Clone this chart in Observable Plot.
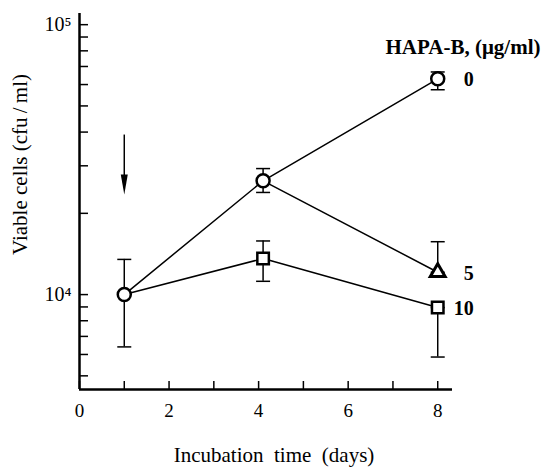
<!DOCTYPE html>
<html><head><meta charset="utf-8">
<script src="https://cdn.jsdelivr.net/npm/d3@7"></script>
<script src="https://cdn.jsdelivr.net/npm/@observablehq/plot@0.6"></script>
<style>
body{margin:0;background:#fff}
svg{display:block}
#chart svg, #chart svg text{font-family:"Liberation Serif","Times New Roman","DejaVu Serif",serif !important;}
</style>
</head><body><div id="chart"></div>
<script>
// ---- data ----
const days = [1, 4.1, 8];
const dose0Values = [10000, 26400, 63000];
const dose0Low    = [6400, 23900, 57400];
const dose0High   = [13500, 29300, 66800];
const dose5Days   = [4.1, 8];
const dose5Values = [26400, 12100];
const dose5Low    = [23900, 12100];
const dose5High   = [29300, 15700];
const dose10Values = [10000, 13600, 8950];
const dose10Low    = [6400, 11200, 5870];
const dose10High   = [13500, 15800, 8950];
const seriesLabels = ["0", "5", "10"];
const legendTitle = "HAPA-B, (\u03bcg/ml)";
const xTitle = "Incubation\u00a0 time\u00a0 (days)";
const yTitle = "Viable cells (cfu\u2009/\u2009ml)";
const xTicks = [0, 1, 2, 3, 4, 5, 6, 7, 8];
const xTickLabels = [0, 2, 4, 6, 8];
const yTicks = [5000, 6000, 7000, 8000, 9000, 10000, 20000, 30000, 40000, 50000, 60000, 70000, 80000, 90000, 100000];
const yTickLabels = {10000: "10\u2074", 100000: "10\u2075"};
const arrowDay = 1, arrowFrom = 39000, arrowTo = 23500;

// ---- tables built from the arrays ----
const lineRows = [
  ...days.map((d, i) => ({series: "0", day: d, value: dose0Values[i]})),
  ...dose5Days.map((d, i) => ({series: "5", day: d, value: dose5Values[i]})),
  ...days.map((d, i) => ({series: "10", day: d, value: dose10Values[i]}))
];
const circles = days.map((d, i) => ({day: d, value: dose0Values[i], low: dose0Low[i], high: dose0High[i]}));
const triangles = [{day: dose5Days[1], value: dose5Values[1], low: dose5Low[1], high: dose5High[1]}];
const squares = [1, 2].map(i => ({day: days[i], value: dose10Values[i], low: dose10Low[i], high: dose10High[i]}));
const points = [...circles, ...triangles, ...squares];
const labelRows = [
  {day: days[2], value: dose0Values[2], label: seriesLabels[0]},
  {day: dose5Days[1], value: dose5Values[1], label: seriesLabels[1]},
  {day: days[2], value: dose10Values[2], label: seriesLabels[2]}
];

const capSymbol = {draw(ctx, size) { const w = Math.sqrt(size / Math.PI); ctx.moveTo(-w, 0); ctx.lineTo(w, 0); }};
const headSymbol = {draw(ctx, size) { ctx.moveTo(-3.5, -20); ctx.lineTo(3.5, -20); ctx.lineTo(0, 0); ctx.closePath(); }};

const serif = "Liberation Serif";
const yMin = 4450, yMax = 110000;

const chart = Plot.plot({
  width: 544, height: 473,
  marginLeft: 79, marginRight: 92, marginTop: 13, marginBottom: 84,
  style: {fontFamily: serif, fontSize: "19px", color: "#000", background: "#fff"},
  x: {domain: [0, 8.33], label: null},
  y: {type: "log", domain: [yMin, yMax], label: null},
  marks: [
    Plot.ruleX([0], {strokeWidth: 2.5}),
    Plot.ruleY([yMin], {strokeWidth: 2.5}),
    Plot.axisX({ticks: xTicks, tickSize: -8, tickPadding: 22, strokeWidth: 1.5, fontSize: 19, fontFamily: serif,
      tickFormat: d => xTickLabels.includes(d) ? String(d) : "", label: null}),
    Plot.axisY({ticks: yTicks, tickSize: -9, tickPadding: 17, strokeWidth: 1.5, fontSize: 20, fontFamily: serif,
      tickFormat: d => yTickLabels[d] ?? "", label: null}),
    Plot.line(lineRows, {x: "day", y: "value", z: "series", stroke: "black", strokeWidth: 1.5}),
    Plot.ruleX(points, {x: "day", y1: "low", y2: "high", stroke: "black", strokeWidth: 1.5}),
    Plot.dot(points, {x: "day", y: "high", symbol: capSymbol, r: 7, fill: "none", stroke: "black", strokeWidth: 1.5}),
    Plot.dot(points, {x: "day", y: "low", symbol: capSymbol, r: 7, fill: "none", stroke: "black", strokeWidth: 1.5}),
    Plot.dot(circles, {x: "day", y: "value", symbol: "circle", r: 6.5, fill: "white", stroke: "black", strokeWidth: 2.5}),
    Plot.dot(squares, {x: "day", y: "value", symbol: "square", r: 6.5, fill: "white", stroke: "black", strokeWidth: 2.5}),
    Plot.dot(triangles, {x: "day", y: "value", symbol: "triangle", r: 5.5, fill: "white", stroke: "black", strokeWidth: 3}),
    Plot.ruleX([arrowDay], {y1: arrowFrom, y2: arrowTo * 1.1, stroke: "black", strokeWidth: 1.5}),
    Plot.dot([arrowDay], {x: d => d, y: () => arrowTo, symbol: headSymbol, r: 5, fill: "black", stroke: "none"}),
    Plot.text(labelRows, {x: "day", y: "value", text: "label", textAnchor: "end", lineAnchor: "middle", dx: 36, dy: 1, fontWeight: "bold", fontSize: 20, fontFamily: serif}),
    Plot.text([legendTitle], {frameAnchor: "top-right", textAnchor: "end", lineAnchor: "middle", dx: 88, dy: 34, fontWeight: "bold", fontSize: 21, fontFamily: serif}),
    Plot.text([xTitle], {frameAnchor: "bottom", textAnchor: "middle", lineAnchor: "middle", dx: 8, dy: 66, fontSize: 21, fontFamily: serif}),
    Plot.text([yTitle], {frameAnchor: "left", textAnchor: "middle", lineAnchor: "middle", rotate: -90, dx: -59, dy: -37, fontSize: 21, fontFamily: serif})
  ]
});
document.getElementById("chart").appendChild(chart);
</script>
</body></html>
